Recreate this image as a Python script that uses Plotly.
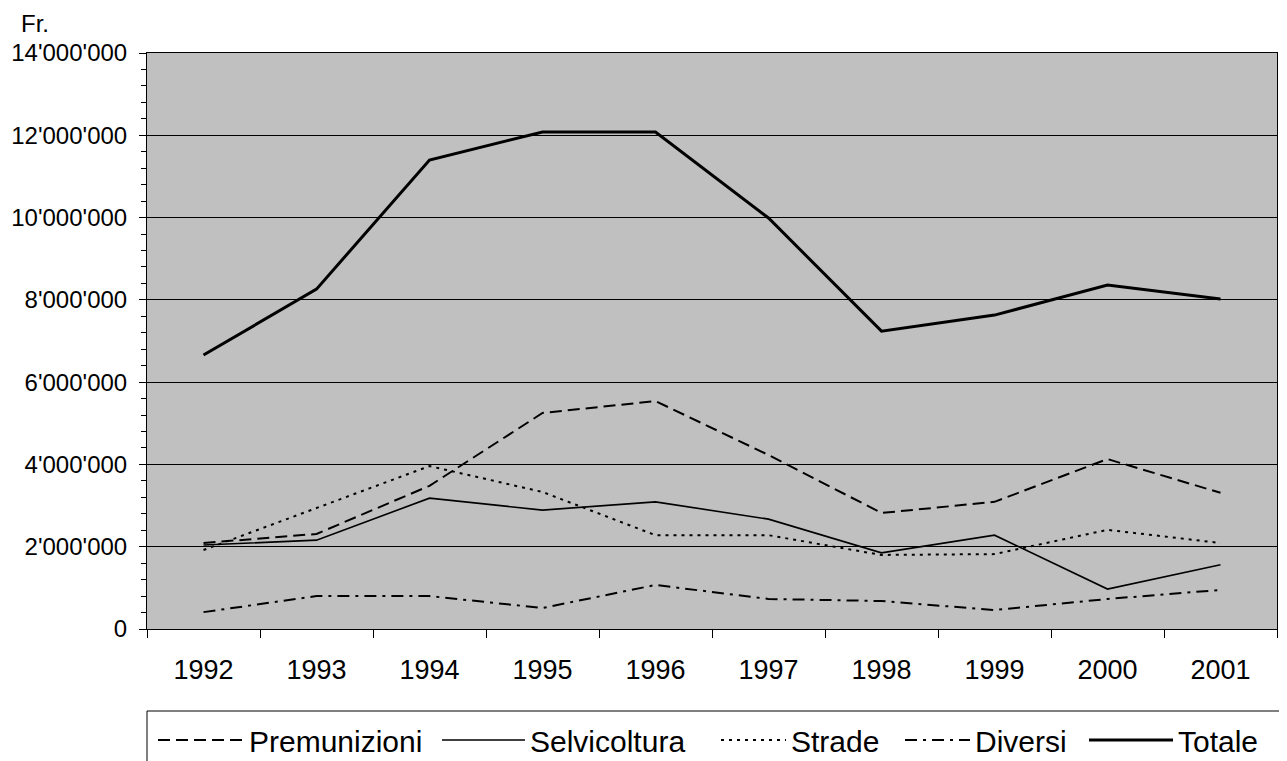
import plotly.graph_objects as go

years = ["1992", "1993", "1994", "1995", "1996", "1997", "1998", "1999", "2000", "2001"]
premunizioni = [2090000, 2310000, 3480000, 5250000, 5540000, 4230000, 2820000, 3090000, 4130000, 3310000]
selvicoltura = [2040000, 2160000, 3180000, 2890000, 3090000, 2670000, 1850000, 2280000, 970000, 1560000]
strade = [1920000, 2940000, 3960000, 3330000, 2280000, 2280000, 1800000, 1820000, 2410000, 2090000]
diversi = [410000, 800000, 800000, 510000, 1070000, 730000, 680000, 460000, 730000, 950000]
totale = [6660000, 8260000, 11400000, 12080000, 12080000, 9990000, 7240000, 7630000, 8360000, 8020000]

y_ticks = [0, 2000000, 4000000, 6000000, 8000000, 10000000, 12000000, 14000000]
y_labels = ["0", "2'000'000", "4'000'000", "6'000'000", "8'000'000", "10'000'000", "12'000'000", "14'000'000"]

# page has an 8px body margin; figure is sized so it fits the 1287x761 window
OFF = 8
W, H = 1287 - OFF, 761 - OFF
ML, MR, MT, MB = 147 - OFF, W - (1277 - OFF), 53 - OFF, H - (629 - OFF)

font = "Liberation Sans, Arial, sans-serif"
pw = W - ML - MR
ph = H - MT - MB

def px_x(page_x):
    return (page_x - OFF - ML) / pw

def px_y(page_y):
    return (H - MB - (page_y - OFF)) / ph

# (name, values, line style, legend id, legend page-x, legend item width)
series = [
    ("Premunizioni", premunizioni, dict(color="black", width=2, dash="12px,6px"), "legend", 153, 86),
    ("Selvicoltura", selvicoltura, dict(color="black", width=1.6, dash="solid"), "legend2", 437, 83),
    ("Strade", strade, dict(color="black", width=2, dash="3px,5px"), "legend3", 716, 65),
    ("Diversi", diversi, dict(color="black", width=2, dash="12px,6px,3px,6px"), "legend4", 900, 65),
    ("Totale", totale, dict(color="black", width=3, dash="solid"), "legend5", 1084, 84),
]

fig = go.Figure()
legend_layouts = {}
for name, vals, line, lg, lx, iw in series:
    fig.add_trace(go.Scatter(x=years, y=vals, name=name, mode="lines", line=line, legend=lg))
    legend_layouts[lg] = dict(
        orientation="h",
        x=px_x(lx), xanchor="left",
        y=px_y(740), yanchor="middle",
        font=dict(family=font, size=30, color="black"),
        bgcolor="rgba(0,0,0,0)",
        borderwidth=0,
        itemwidth=iw,
    )

fig.update_layout(
    template="none",
    width=W, height=H,
    margin=dict(l=ML, r=MR, t=MT, b=MB, autoexpand=False),
    paper_bgcolor="white",
    plot_bgcolor="#C0C0C0",
    font=dict(family=font, size=24, color="black"),
    showlegend=True,
    xaxis=dict(
        type="category",
        range=[-0.5, 9.5],
        tickson="boundaries",
        ticks="outside",
        ticklen=8,
        tickcolor="black",
        showline=True,
        linecolor="black",
        linewidth=1,
        mirror=True,
        showgrid=False,
        automargin=False,
        tickfont=dict(family=font, size=27),
        ticklabelstandoff=17,
        fixedrange=True,
    ),
    yaxis=dict(
        range=[0, 14000000],
        tickvals=y_ticks,
        ticktext=y_labels,
        ticks="outside",
        ticklen=7,
        tickcolor="black",
        showline=True,
        linecolor="black",
        linewidth=1,
        mirror=True,
        showgrid=True,
        gridcolor="black",
        gridwidth=1,
        zeroline=False,
        automargin=False,
        tickfont=dict(family=font, size=24),
        ticklabelstandoff=7,
        minor=dict(dtick=400000, tick0=0, ticks="outside", ticklen=5, tickcolor="black", showgrid=False),
        fixedrange=True,
    ),
    annotations=[
        dict(text="Fr.", xref="paper", yref="paper",
             x=px_x(19), y=px_y(23), xanchor="left", yanchor="middle",
             showarrow=False, font=dict(family=font, size=24, color="black")),
    ],
    shapes=[
        dict(type="rect", xref="paper", yref="paper",
             x0=px_x(147), x1=px_x(1320),
             y0=px_y(711), y1=px_y(800),
             line=dict(color="black", width=1), fillcolor="rgba(0,0,0,0)", layer="above"),
    ],
    **legend_layouts,
)

fig.write_html("out.html")
